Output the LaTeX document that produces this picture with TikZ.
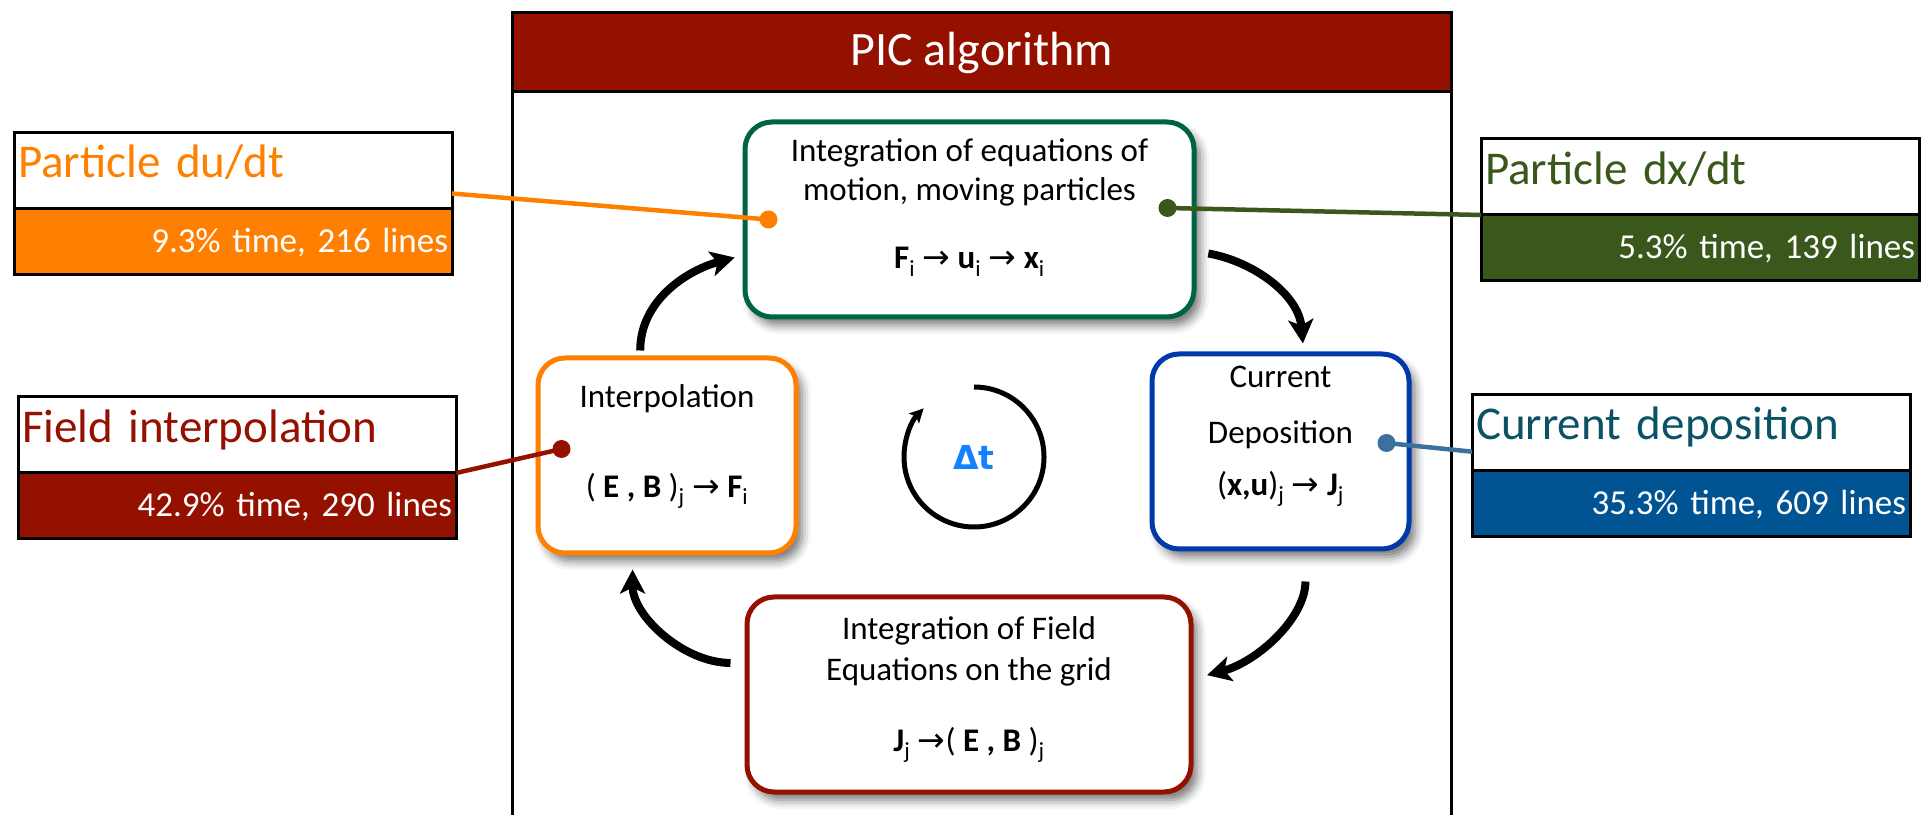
\documentclass[tikz,border=0pt]{standalone}
\usepackage{fontspec}
\setmainfont{Carlito}
\newfontfamily\symfont{DejaVu Sans}
\usepackage{xcolor}
\usetikzlibrary{arrows.meta,calc,positioning,shadows.blur}
\definecolor{cayenne}{RGB}{148,17,0}
\definecolor{tangerine}{RGB}{255,128,0}
\definecolor{pinegreen}{RGB}{0,99,68}
\definecolor{fern}{RGB}{58,88,28}
\definecolor{royal}{RGB}{0,58,170}
\definecolor{ocean}{RGB}{0,84,147}
\definecolor{deepteal}{RGB}{12,82,102}
\definecolor{steel}{RGB}{60,112,158}
\definecolor{sky}{RGB}{20,130,255}
\newcommand{\picarrow}{{\symfont →}}
\tikzset{
	stagebox/.style={
			draw=#1, line width=5pt, rounded corners=27pt, fill=white,
			minimum height=195pt,
			blur shadow={shadow xshift=6pt, shadow yshift=-8pt, shadow blur radius=9pt, shadow opacity=55}
		},
	stagetext/.style={align=center, font=\fontsize{33}{41}\selectfont},
	tagbox/.style={
			draw, line width=3pt, outer sep=0pt, fill=white, text=#1,
			minimum width=438pt, minimum height=76pt, text width=430pt,
			inner xsep=4pt, inner ysep=0pt, text height=33pt, text depth=18pt,
			align=left, font=\fontsize{47}{52}\selectfont
		},
	tagbar/.style={
			draw=black, line width=3pt, outer sep=0pt, fill=#1, text=white,
			minimum width=438pt, minimum height=66pt, text width=430pt,
			inner xsep=4pt, inner ysep=0pt, text height=26pt, text depth=4pt,
			align=right, font=\fontsize{35}{40}\selectfont
		},
	pointer/.style={line width=4.5pt, draw=#1},
	tagdot/.style={circle, fill=#1, inner sep=0pt, minimum size=18pt},
	flowarrow/.style={line width=8pt, -{Stealth[length=24pt, width=25pt, inset=6pt]}}
}

\begin{document}
\begin{tikzpicture}[x=1pt, y=1pt]
	\useasboundingbox (0,0) rectangle (1921,814);

	\coordinate (floor) at (0,-5);
	\node[draw, line width=3pt, outer sep=0pt, fill=cayenne, text=white, minimum width=939pt, minimum height=79pt, font=\fontsize{48}{56}\selectfont] (header) at (981.5,761.5) {PIC algorithm};
	\draw[line width=3pt] (header.north west) -- (header.north west |- floor);
	\draw[line width=3pt] (header.north east) -- (header.north east |- floor);

	\node[stagebox=pinegreen, minimum width=449pt] (push) at (969.5,594.5) {};
	\node[stagebox=tangerine, minimum width=258pt] (interp) at (667,358.5) {};
	\node[stagebox=royal, minimum width=257pt] (depo) at (1280.5,362.5) {};
	\node[stagebox=cayenne, minimum width=444pt] (field) at (969,119.5) {};

	\node[stagetext] (pushtxt) at ([yshift=12pt]push.center) {Integration of equations of\\[-2pt]motion, moving particles\\[27pt]\textbf{F}\textsubscript{i} \picarrow{} \textbf{u}\textsubscript{i} \picarrow{} \textbf{x}\textsubscript{i}};
	\node[stagetext] (interptxt) at ([yshift=9pt]interp.center) {Interpolation\\[49pt]( \textbf{E , B} )\textsubscript{j} \picarrow{} \textbf{F}\textsubscript{i}};
	\node[stagetext] (depotxt) at ([yshift=15pt]depo.center) {Current\\[15pt]Deposition\\[11pt](\textbf{x,u})\textsubscript{j} \picarrow{} \textbf{J}\textsubscript{j}};
	\node[stagetext] (fieldtxt) at ([yshift=5pt]field.center) {Integration of Field\\Equations on the grid\\[30pt]\textbf{J}\textsubscript{j} \picarrow( \textbf{E , B} )\textsubscript{j}};

	\draw[flowarrow, shorten <=5pt, shorten >=8pt] (interp.105) to[out=90, in=195] (push.189);
	\draw[flowarrow, shorten <=12pt, shorten >=8pt] (push.352) to[out=-10, in=95] (depo.77);
	\draw[flowarrow, shorten <=30pt, shorten >=14pt] (depo.284) to[out=-90, in=15] (field.4);
	\draw[flowarrow, shorten <=14pt, shorten >=14pt] (field.172) to[out=180, in=-90] (interp.251);

	\node[text=sky, font=\symfont\bfseries\fontsize{33}{40}\selectfont] (dt) at (974,357) {Δt};
	\draw[line width=5pt, -{Stealth[length=14pt, width=14pt, inset=3pt]}] ([shift={(90:70pt)}]dt.center) arc[start angle=90, end angle=-224, radius=70pt];

	\node[tagbox=tangerine] (dudt) at (233,643.5) {Particle du/dt};
	\node[tagbar=tangerine, below=0pt of dudt] (dudtbar) {9.3\% time, 216 lines};
	\node[tagbox=cayenne] (fieldint) at (237,379) {Field interpolation};
	\node[tagbar=cayenne, below=0pt of fieldint] (fieldintbar) {42.9\% time, 290 lines};
	\node[tagbox=fern] (dxdt) at (1700,637) {Particle dx/dt};
	\node[tagbar=fern, below=0pt of dxdt] (dxdtbar) {5.3\% time, 139 lines};
	\node[tagbox=deepteal] (curdep) at (1691,381.5) {Current deposition};
	\node[tagbar=ocean, below=0pt of curdep] (curdepbar) {35.3\% time, 609 lines};

	\node[tagdot=tangerine] (pushin) at ([xshift=26pt]push.west) {};
	\node[tagdot=fern] (pushout) at ([xshift=-29pt, yshift=11.5pt]push.east) {};
	\node[tagdot=cayenne] (interpin) at ([xshift=26pt, yshift=6.5pt]interp.west) {};
	\node[tagdot=steel] (depoout) at ([xshift=-25pt, yshift=8.5pt]depo.east) {};

	\draw[pointer=tangerine] (dudt.-6) -- (pushin.center);
	\draw[pointer=fern] (pushout.center) -- (dxdt.south west);
	\draw[pointer=cayenne] (fieldint.south east) -- (interpin.center);
	\draw[pointer=steel] (depoout.center) -- (curdep.185);
\end{tikzpicture}
\end{document}
